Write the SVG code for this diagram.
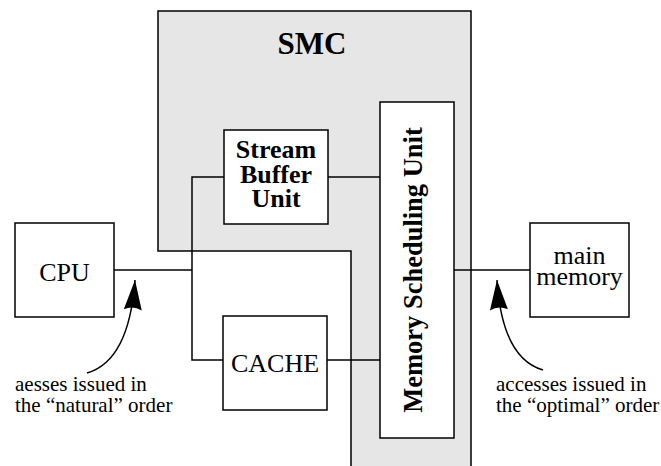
<svg xmlns="http://www.w3.org/2000/svg" width="661" height="466" viewBox="0 0 661 466">
<style>
.box{fill:#fff;stroke:#000;stroke-width:1.5}
.ln{fill:none;stroke:#000;stroke-width:1.5}
.t{font-family:"Liberation Serif","Times New Roman",serif;fill:#000}
.b{font-weight:bold}
.lg{font-size:26px}
.sm{font-size:21px}
</style>
<defs>
<marker id="ah" markerUnits="userSpaceOnUse" viewBox="-32 -11 34 22" refX="0" refY="0" markerWidth="34" markerHeight="22" orient="auto">
<path d="M0,0 L-30,-9 Q-25,0 -30,9 Z" fill="#000"/>
</marker>
</defs>
<g id="smc">
<polygon points="158,11 471,11 471,470 351,470 351,251 158,251" fill="#e6e6e6" stroke="#000" stroke-width="1.5"/>
<text class="t b" x="312" y="54" font-size="31" text-anchor="middle">SMC</text>
</g>
<g id="connectors">
<line class="ln" x1="114" y1="270" x2="192" y2="270"/>
<polyline class="ln" points="224,177 192,177 192,360 223,360"/>
<line class="ln" x1="328" y1="177" x2="380" y2="177"/>
<line class="ln" x1="327" y1="360" x2="380" y2="360"/>
<line class="ln" x1="454" y1="270" x2="530" y2="270"/>
<path class="ln" d="M87,373 Q129,361 135,280" marker-end="url(#ah)"/>
<path class="ln" d="M543,370 Q502,358 497,280" marker-end="url(#ah)"/>
</g>
<g id="stream-buffer">
<rect class="box" x="224" y="130" width="104" height="94"/>
<text class="t b lg" text-anchor="middle"><tspan x="276" y="158">Stream</tspan><tspan x="276" y="183">Buffer</tspan><tspan x="276" y="207">Unit</tspan></text>
</g>
<g id="msu">
<rect class="box" x="380" y="102" width="74" height="336"/>
<text class="t b" font-size="26.5" text-anchor="middle" transform="translate(422,270) rotate(-90)">Memory Scheduling Unit</text>
</g>
<g id="cache">
<rect class="box" x="223" y="316" width="104" height="94"/>
<text class="t lg" x="275" y="372" text-anchor="middle">CACHE</text>
</g>
<g id="cpu">
<rect class="box" x="15" y="223" width="99" height="94"/>
<text class="t lg" x="64.5" y="281" text-anchor="middle">CPU</text>
</g>
<g id="main-memory">
<rect class="box" x="530" y="223" width="99" height="94"/>
<text class="t lg" text-anchor="middle"><tspan x="579.5" y="264">main</tspan><tspan x="579.5" y="285">memory</tspan></text>
</g>
<g id="label-natural">
<text class="t sm"><tspan x="15" y="391">aesses issued in</tspan><tspan x="15" y="412">the “natural” order</tspan></text>
</g>
<g id="label-optimal">
<text class="t sm"><tspan x="496" y="391">accesses issued in</tspan><tspan x="496" y="412">the “optimal” order</tspan></text>
</g>
</svg>
